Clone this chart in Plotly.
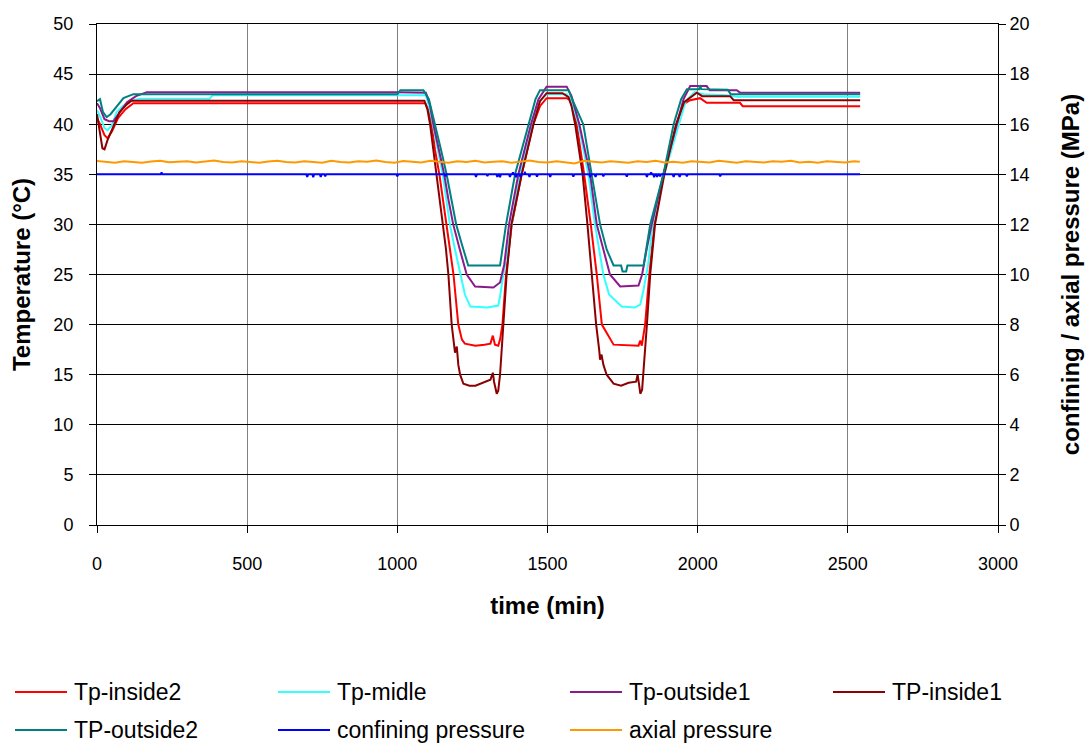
import plotly.graph_objects as go

# ---------------- data ----------------
red_t = [0, 10, 25, 35, 50, 70, 95, 121, 1093, 1105, 1114, 1125, 1140, 1152, 1164, 1176, 1187, 1203, 1215, 1225,
         1260, 1290, 1310, 1318, 1325, 1336, 1342, 1350, 1362, 1381, 1414, 1453, 1475, 1497, 1564, 1575, 1586,
         1597, 1622, 1644, 1664, 1681, 1700, 1720, 1803, 1809, 1814, 1825, 1839, 1856, 1886, 1931, 1953, 1975,
         2008, 2030, 2141, 2150, 2541]
red_v = [40.6, 40.0, 38.9, 38.6, 39.3, 40.6, 41.5, 42.1, 42.1, 41.3, 40.0, 37.5, 35.0, 32.5, 30.0, 27.5, 25.0, 20.0, 18.5, 18.1,
         17.9, 18.0, 18.1, 18.9, 18.0, 17.9, 18.5, 20.0, 25.0, 30.0, 35.0, 40.0, 41.8, 42.6, 42.6, 42.4, 41.5,
         40.0, 35.0, 30.0, 25.0, 20.0, 19.0, 18.0, 17.9, 18.4, 17.9, 20.0, 25.0, 30.0, 35.0, 40.0, 42.0, 42.4,
         42.6, 42.14, 42.14, 41.8, 41.8]

midle_t = [0, 10, 25, 35, 50, 65, 85, 110, 143, 375, 385, 1095, 1108, 1118, 1135, 1151, 1163, 1175, 1192, 1209, 1225,
           1243, 1300, 1336, 1342, 1353, 1381, 1408, 1448, 1475, 1497, 1564, 1580, 1603, 1636, 1658, 1686, 1705,
           1747, 1790, 1809, 1820, 1835, 1850, 1889, 1937, 1960, 1990, 2020, 2097, 2130, 2541]
midle_v = [41.4, 40.8, 39.6, 39.4, 39.9, 41.2, 41.8, 42.3, 42.55, 42.55, 42.9, 42.9, 41.5, 40.0, 37.5, 35.0, 32.5, 30.0, 27.5, 25.0, 23.0,
           21.8, 21.7, 21.9, 22.8, 25.0, 30.0, 35.0, 40.0, 42.3, 43.0, 43.0, 42.3, 40.0, 35.0, 30.0, 25.0, 23.0,
           21.8, 21.7, 22.0, 23.5, 26.0, 30.0, 35.0, 40.0, 42.3, 43.2, 43.0, 42.9, 42.75, 42.75]

out1_t = [0, 10, 25, 40, 55, 75, 100, 130, 166, 1000, 1095, 1108, 1120, 1138, 1156, 1170, 1186, 1208, 1231, 1259,
          1320, 1342, 1356, 1372, 1403, 1445, 1470, 1497, 1564, 1580, 1606, 1642, 1664, 1708, 1742, 1803, 1815,
          1830, 1847, 1886, 1931, 1953, 1975, 2030, 2040, 2130, 2141, 2541]
out1_v = [42.1, 41.6, 40.5, 40.3, 40.3, 41.2, 42.2, 42.8, 43.2, 43.2, 43.15, 42.0, 40.0, 37.5, 35.0, 32.5, 30.0, 27.5, 25.0, 23.8,
          23.7, 24.2, 26.0, 30.0, 35.0, 40.0, 42.5, 43.75, 43.75, 42.8, 40.0, 35.0, 30.0, 25.0, 23.8, 23.9, 25.0,
          27.5, 30.0, 35.0, 40.0, 42.5, 43.8, 43.8, 43.4, 43.4, 43.15, 43.15]

in1_t = [0, 8, 18, 25, 35, 55, 75, 100, 115, 1090, 1100, 1109, 1120, 1131, 1142, 1153, 1162, 1170, 1181, 1192, 1198,
         1203, 1209, 1220, 1240, 1260, 1287, 1310, 1318, 1322, 1331, 1336, 1342, 1353, 1364, 1380, 1414, 1453, 1475,
         1497, 1550, 1570, 1580, 1592, 1617, 1633, 1648, 1662, 1672, 1675, 1680, 1686, 1697, 1720, 1745, 1770,
         1795, 1800, 1805, 1809, 1815, 1822, 1831, 1842, 1858, 1889, 1928, 1955, 1997, 2015, 2108, 2120, 2541]
in1_v = [41.0, 39.5, 37.6, 37.5, 38.4, 39.8, 41.2, 42.0, 42.35, 42.35, 41.5, 40.0, 37.5, 35.0, 32.5, 30.0, 27.5, 25.0, 20.0, 17.2, 17.8,
         16.0, 15.0, 14.1, 13.9, 13.9, 14.2, 14.5, 15.2, 14.3, 13.1, 13.4, 15.0, 20.0, 25.0, 30.0, 35.0, 40.0, 42.3,
         43.1, 43.1, 42.7, 41.8, 40.0, 35.0, 30.0, 25.0, 20.0, 17.5, 16.5, 17.0, 16.0, 15.0, 14.1, 13.9, 14.2,
         14.3, 15.0, 14.0, 13.1, 13.5, 16.0, 20.0, 25.0, 30.0, 35.0, 40.0, 42.2, 43.15, 42.8, 42.8, 42.4, 42.4]

out2_t = [0, 10, 20, 32, 45, 65, 88, 121, 1000, 1010, 1087, 1105, 1126, 1145, 1164, 1180, 1196, 1215, 1236, 1342,
          1362, 1392, 1437, 1460, 1475, 1570, 1585, 1619, 1647, 1675, 1697, 1720, 1745, 1750, 1762, 1766, 1820,
          1842, 1886, 1920, 1945, 1964, 2005, 2008, 2012, 2100, 2110, 2541]
out2_v = [42.3, 42.5, 41.2, 40.7, 41.0, 41.8, 42.6, 43.0, 43.0, 43.4, 43.4, 42.5, 40.0, 37.5, 35.0, 32.5, 30.0, 28.0, 25.9, 25.9,
          30.0, 35.0, 40.0, 42.5, 43.4, 43.4, 42.3, 40.0, 35.0, 30.0, 27.5, 25.9, 25.9, 25.3, 25.3, 25.9, 25.9,
          30.0, 35.0, 40.0, 42.5, 43.5, 43.5, 43.9, 43.5, 43.45, 43.0, 43.0]

# confining pressure: base level and short spikes (time, value)
conf_base = 14.0
conf_start, conf_end = 0, 2541
conf_spike_t = [215, 700, 720, 745, 760, 1000, 1160, 1262, 1300, 1333, 1342, 1375, 1385, 1395, 1410, 1425, 1440,
                1465, 1509, 1586, 1642, 1660, 1686, 1764, 1831, 1845, 1855, 1865, 1875, 1920, 1940, 1964, 2075]
conf_spike_v = [14.08, 13.9, 13.88, 13.9, 13.92, 13.92, 13.92, 13.9, 13.93, 13.9, 13.88, 13.9, 14.07, 13.88, 13.9, 14.06, 13.9,
                13.91, 13.9, 13.91, 13.88, 13.9, 13.92, 13.91, 13.9, 14.07, 13.88, 13.9, 13.92, 13.9, 13.9, 13.92, 13.92]

# axial pressure sampled every 30 min
axial_t = list(range(0, 2521, 30)) + [2540]
axial_v = [14.53, 14.49, 14.46, 14.52, 14.50, 14.46, 14.51, 14.54, 14.48, 14.50,
           14.52, 14.47, 14.50, 14.55, 14.49, 14.47, 14.52, 14.50, 14.46, 14.51,
           14.54, 14.49, 14.47, 14.52, 14.50, 14.46, 14.54, 14.49, 14.47, 14.52,
           14.50, 14.55, 14.49, 14.46, 14.53, 14.50, 14.47, 14.54, 14.49, 14.46,
           14.52, 14.49, 14.54, 14.47, 14.50, 14.52, 14.46, 14.50, 14.55, 14.49,
           14.47, 14.52, 14.49, 14.43, 14.54, 14.50, 14.47, 14.52, 14.49, 14.46,
           14.52, 14.49, 14.54, 14.47, 14.50, 14.46, 14.52, 14.49, 14.47, 14.54,
           14.50, 14.46, 14.52, 14.49, 14.47, 14.52, 14.50, 14.54, 14.47, 14.50,
           14.46, 14.52, 14.49, 14.47, 14.52, 14.50]

# ---------------- build confining series from its spikes ----------------
conf_t = [conf_start]
conf_v = [conf_base]
for t, v in zip(conf_spike_t, conf_spike_v):
    conf_t += [t - 3, t, t + 3]
    conf_v += [conf_base, v, conf_base]
conf_t.append(conf_end)
conf_v.append(conf_base)

FONT = "Arial, Liberation Sans, sans-serif"
W, H = 1091, 744
ML, MR, MT, MB = 97, 93, 24, 219
PW, PH = W - ML - MR, H - MT - MB

def px_x(px):
    return (px - ML) / PW

def px_y(py):
    return (H - MB - py) / PH

fig = go.Figure()

series = [
    ("Tp-inside2", red_t, red_v, "#FF0000", "y"),
    ("Tp-midle", midle_t, midle_v, "#33FFFF", "y"),
    ("Tp-outside1", out1_t, out1_v, "#8B1A8B", "y"),
    ("TP-inside1", in1_t, in1_v, "#8B0000", "y"),
    ("TP-outside2", out2_t, out2_v, "#008080", "y"),
    ("confining pressure", conf_t, conf_v, "#0000FF", "y2"),
    ("axial pressure", axial_t, axial_v, "#FF9900", "y2"),
]
for name, t, v, c, ax in series:
    fig.add_trace(go.Scatter(x=t, y=v, name=name, mode="lines", yaxis=ax,
                             line=dict(color=c, width=2), showlegend=False))

# legend drawn as line samples + text, 4 columns x 2 rows
col_line_x = [15, 278, 570, 833]
row_y = [692, 730]
LINE_LEN = 52
TEXT_GAP = 5
for i, (name, _, _, c, _) in enumerate(series):
    r, col = divmod(i, 4)
    x0 = col_line_x[col]
    y0 = row_y[r]
    fig.add_shape(type="line", xref="paper", yref="paper",
                  x0=px_x(x0), x1=px_x(x0 + LINE_LEN), y0=px_y(y0), y1=px_y(y0),
                  line=dict(color=c, width=2))
    fig.add_annotation(xref="paper", yref="paper", x=px_x(x0 + LINE_LEN + TEXT_GAP), y=px_y(y0),
                       text=name, showarrow=False, xanchor="left", yanchor="middle",
                       font=dict(family=FONT, size=23, color="black"))

axis_common = dict(showline=True, linecolor="black", linewidth=1, ticks="outside", ticklen=7,
                   tickcolor="black", tickfont=dict(family=FONT, size=18, color="black"), zeroline=False,
                   automargin=False)
TITLE_FONT = dict(family=FONT, size=24, color="black")

fig.update_layout(
    width=W, height=H,
    margin=dict(l=ML, r=MR, t=MT, b=MB),
    paper_bgcolor="white", plot_bgcolor="white",
    showlegend=False,
    xaxis=dict(range=[0, 3000], dtick=500, showgrid=True, gridcolor="#7F7F7F", gridwidth=1, mirror=True,
               ticklabelstandoff=15,
               title=dict(text="<b>time (min)</b>", font=TITLE_FONT, standoff=24),
               **axis_common),
    yaxis=dict(range=[0, 50], dtick=5, showgrid=True, gridcolor="#000000", gridwidth=1,
               ticklabelstandoff=12,
               title=dict(text="<b>Temperature (°C)</b>", font=TITLE_FONT, standoff=15),
               **axis_common),
    yaxis2=dict(range=[0, 20], dtick=2, overlaying="y", side="right", showgrid=False,
                title=dict(text="<b>confining / axial pressure (MPa)</b>", font=TITLE_FONT, standoff=33),
                **axis_common),
)

fig.write_html("out.html", config={"displayModeBar": False},
               post_script="document.body.style.margin='0px';document.body.style.overflow='hidden';")
